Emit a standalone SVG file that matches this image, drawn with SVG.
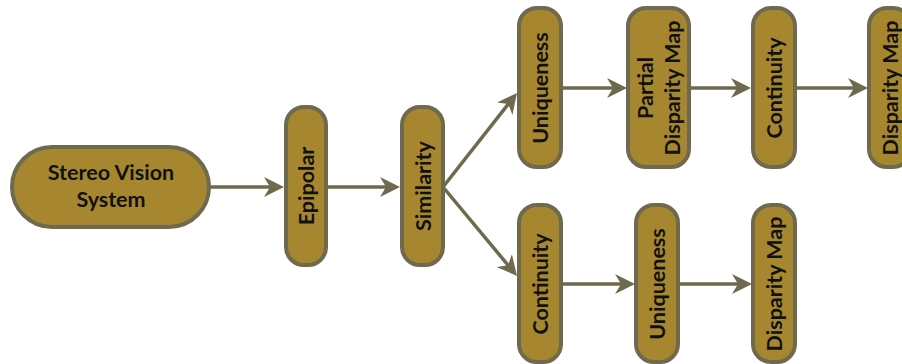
<svg xmlns="http://www.w3.org/2000/svg" width="902" height="364" viewBox="0 0 902 364">
<style>
.box{fill:#A6872F;stroke:#6F6A4D;stroke-width:4}
.lbl{font-family:Lato,"Open Sans",sans-serif;font-weight:bold;font-size:21.5px;fill:#111;text-anchor:middle;dominant-baseline:central}
.con{stroke:#6F6A4D;stroke-width:3.5;fill:none;marker-end:url(#ah)}
</style>
<defs>
<marker id="ah" markerUnits="userSpaceOnUse" markerWidth="20" markerHeight="20" viewBox="0 0 20 20" refX="12" refY="10" orient="auto">
<path d="M0,0 L20,10 L0,20 L6,10 z" fill="#6F6A4D"/>
</marker>
</defs>
<rect width="902" height="364" fill="#fff"/>
<g id="connectors">
<line class="con" x1="209" y1="187" x2="276" y2="187"/>
<line class="con" x1="326" y1="187" x2="392" y2="187"/>
<line class="con" x1="443" y1="187" x2="512" y2="99.3"/>
<line class="con" x1="443" y1="187" x2="511.9" y2="269.8"/>
<line class="con" x1="561" y1="88" x2="619" y2="88"/>
<line class="con" x1="689" y1="88" x2="743" y2="88"/>
<line class="con" x1="795" y1="88" x2="860" y2="88"/>
<line class="con" x1="561" y1="284" x2="627" y2="284"/>
<line class="con" x1="678" y1="284" x2="744" y2="284"/>
</g>
<g id="stereo">
<rect class="box" x="12" y="147" width="197" height="80" rx="40"/>
<text class="lbl" x="111" y="172">Stereo Vision</text>
<text class="lbl" x="111" y="199">System</text>
</g>
<g id="epipolar">
<rect class="box" x="286" y="107" width="40" height="158" rx="18"/>
<text class="lbl" transform="translate(306,186) rotate(-90)">Epipolar</text>
</g>
<g id="similarity">
<rect class="box" x="402" y="107" width="41" height="158" rx="18"/>
<text class="lbl" transform="translate(422.5,186) rotate(-90)">Similarity</text>
</g>
<g id="uniqueness1">
<rect class="box" x="519" y="8" width="42" height="159" rx="18"/>
<text class="lbl" transform="translate(540,88) rotate(-90)">Uniqueness</text>
</g>
<g id="partial">
<rect class="box" x="628" y="8" width="61" height="159" rx="18"/>
<text class="lbl" transform="translate(645,88) rotate(-90)">Partial</text>
<text class="lbl" transform="translate(672,88) rotate(-90)">Disparity Map</text>
</g>
<g id="continuity1">
<rect class="box" x="753" y="8" width="42" height="159" rx="18"/>
<text class="lbl" transform="translate(774,88) rotate(-90)">Continuity</text>
</g>
<g id="disparity1">
<rect class="box" x="869" y="8" width="42" height="159" rx="18"/>
<text class="lbl" transform="translate(890,88) rotate(-90)">Disparity Map</text>
</g>
<g id="continuity2">
<rect class="box" x="519" y="205" width="42" height="157" rx="18"/>
<text class="lbl" transform="translate(540,284) rotate(-90)">Continuity</text>
</g>
<g id="uniqueness2">
<rect class="box" x="636" y="205" width="42" height="157" rx="18"/>
<text class="lbl" transform="translate(657,284) rotate(-90)">Uniqueness</text>
</g>
<g id="disparity2">
<rect class="box" x="753" y="205" width="42" height="157" rx="18"/>
<text class="lbl" transform="translate(774,284) rotate(-90)">Disparity Map</text>
</g>
</svg>
